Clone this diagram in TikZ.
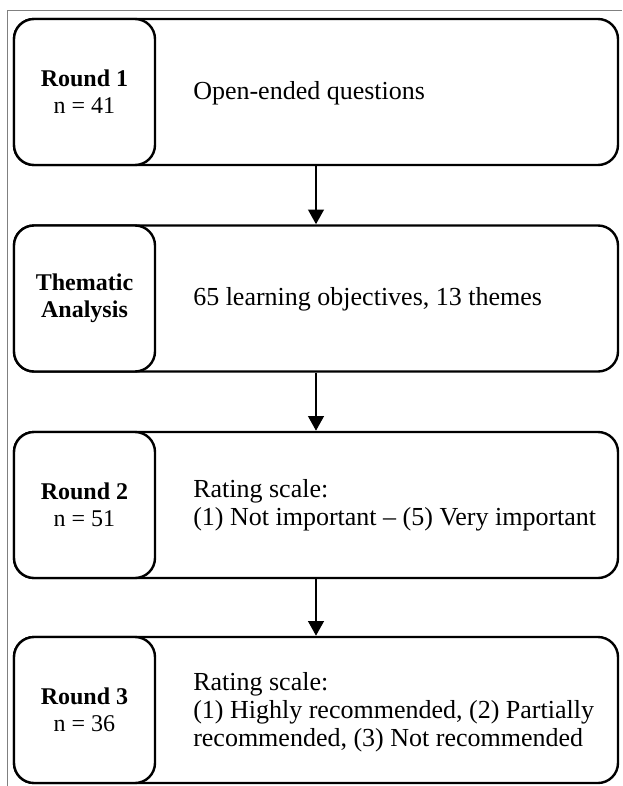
\documentclass[tikz,border=0pt]{standalone}
\usepackage{fontspec}
\setmainfont{Liberation Serif}
\usetikzlibrary{arrows.meta}
\begin{document}
\begin{tikzpicture}[x=0.75pt,y=0.75pt,yscale=-1,xscale=1,
  stagebox/.style={draw, line width=1.8pt, rounded corners=15pt, minimum width=453pt, minimum height=109.5pt, inner sep=0pt},
  labelbox/.style={draw, fill=white, line width=1.8pt, rounded corners=15pt, minimum width=105.75pt, minimum height=109.5pt, inner sep=0pt, align=center, font=\fontsize{18}{20}\selectfont},
  stagetext/.style={anchor=west, inner sep=0pt, align=left, font=\fontsize{19.5}{21}\selectfont},
  flow/.style={-{Triangle[length=11pt,width=11.5pt]}, line width=2.2pt}]
\useasboundingbox (0,0) rectangle (622,786);

%Frame
\draw [color={rgb, 255:red, 128; green, 128; blue, 128 }, line width=0.75pt] (622,10) -- (7,10) -- (7,786) ;

%Round 1
\draw (316,92) node [stagebox] (stage1) {};
\draw (84.5,92) node [labelbox] (label1) {\textbf{Round 1}\\n = 41};
\draw (193,93) node [stagetext] (text1) {Open-ended questions};

%Thematic analysis
\draw (316,298.5) node [stagebox] (stage2) {};
\draw (84.5,298.5) node [labelbox] (label2) {\textbf{Thematic}\\\textbf{Analysis}};
\draw (193,299) node [stagetext] (text2) {65 learning objectives, 13 themes};

%Round 2
\draw (316,505) node [stagebox] (stage3) {};
\draw (84.5,505) node [labelbox] (label3) {\textbf{Round 2}\\n = 51};
\draw (193,505) node [stagetext] (text3) {Rating scale:\\(1) Not important -- (5) Very important};

%Round 3
\draw (316,710) node [stagebox] (stage4) {};
\draw (84.5,710) node [labelbox] (label4) {\textbf{Round 3}\\n = 36};
\draw (193,712) node [stagetext] (text4) {Rating scale:\\(1) Highly recommended, (2) Partially\\recommended, (3) Not recommended};

%Arrows
\draw [flow] (stage1.south) -- (stage2.north) ;
\draw [flow] (stage2.south) -- (stage3.north) ;
\draw [flow] (stage3.south) -- (stage4.north) ;

\end{tikzpicture}
\end{document}
